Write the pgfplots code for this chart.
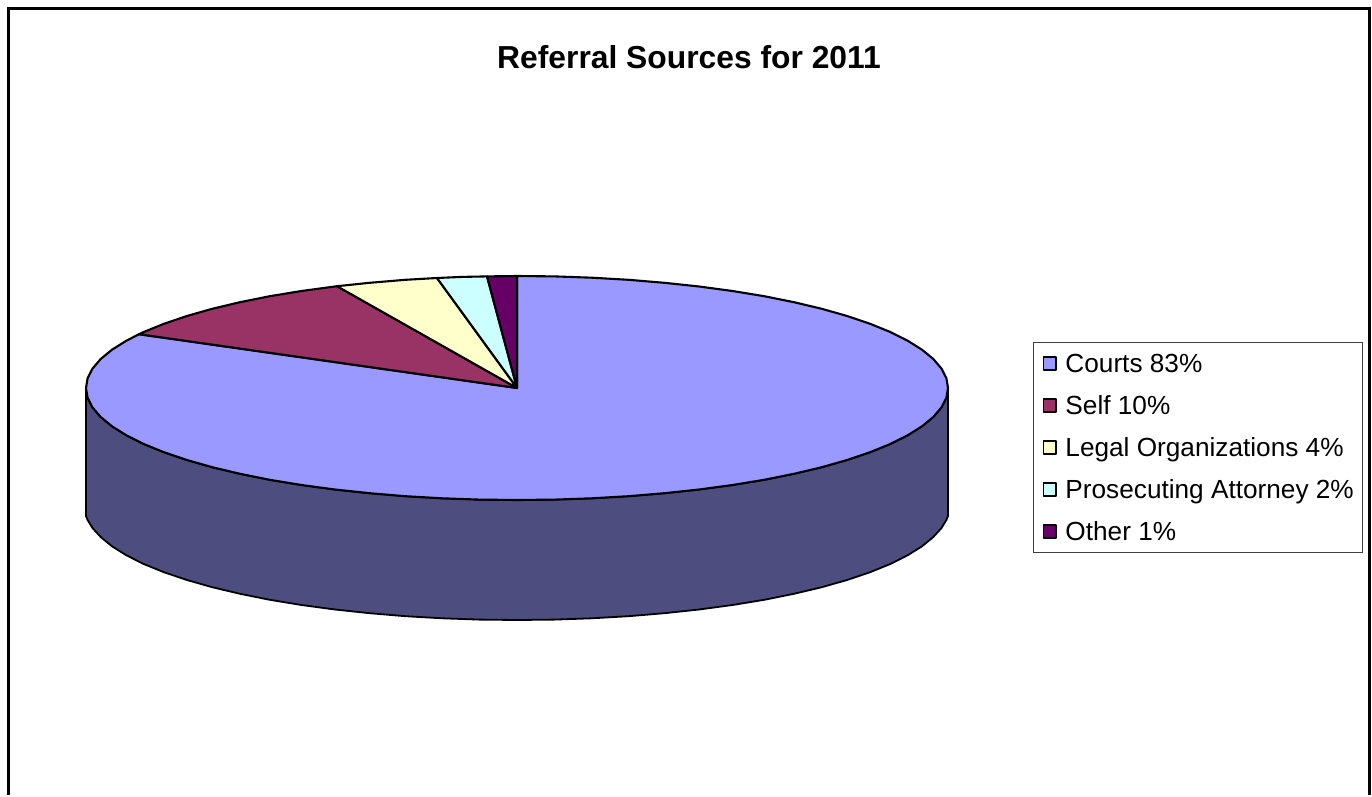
\documentclass[border=0pt]{standalone}
\usepackage{fontspec}
\setmainfont{Liberation Sans}
\usepackage{pgfplots}
\pgfplotsset{compat=1.18}
\definecolor{courts}{HTML}{9999FF}
\definecolor{wall}{HTML}{4D4D80}
\definecolor{selfc}{HTML}{993366}
\definecolor{legal}{HTML}{FFFFCC}
\definecolor{pros}{HTML}{CCFFFF}
\definecolor{other}{HTML}{660066}
\begin{document}
\begin{tikzpicture}
\begin{axis}[
  x=1pt,y=1pt,y dir=reverse,
  xmin=0,xmax=1372,ymin=0,ymax=795,
  axis lines=none,
  clip=false,
  legend cell align=left,
  legend style={
    at={(axis cs:1033,342)},anchor=north west,
    draw=black!75,line width=0.9pt,fill=white,
    font=\fontsize{26.2}{28}\selectfont,
    row sep=17pt,inner xsep=9pt,inner ysep=8.5pt,
    nodes={inner sep=0pt,text height=22pt,text depth=3pt},
  },
  legend image code/.code={
    \path[draw=none,fill=none] (0pt,0pt) -- (23pt,0pt);
    \draw[#1,line width=1.5pt] (1pt,-6.5pt) rectangle (13.5pt,6.5pt);
  },
  every axis plot/.append style={draw=black,line width=2.1pt,line join=round},
]
% side wall
\addplot[fill=wall,line width=1.8pt,forget plot] coordinates {
(86,388)(87.6,397.8)(92.5,407.4)(100.7,417)(112,426.3)(126.4,435.3)(143.7,444)(163.9,452.2)(186.9,460)(212.2,467.2)(240,473.8)(269.8,479.8)(301.5,485)(334.9,489.5)(369.6,493.2)(405.5,496.2)(442.2,498.3)(479.4,499.6)(517,500)(554.6,499.6)(591.8,498.3)(628.5,496.2)(664.4,493.2)(699.1,489.5)(732.5,485)(764.2,479.8)(794,473.8)(821.8,467.2)(847.1,460)(870.1,452.2)(890.3,444)(907.6,435.3)(922,426.3)(933.3,417)(941.5,407.4)(946.4,397.8)(948,388)
(948,516)(946.4,520)(941.5,528)(933.3,537)(922,546.3)(907.6,555.3)(890.3,564)(870.1,572.2)(847.1,580)(821.8,587.2)(794,593.8)(764.2,599.8)(732.5,605)(699.1,609.5)(664.4,613.2)(628.5,616.2)(591.8,618.3)(554.6,619.6)(517,620)(479.4,619.6)(442.2,618.3)(405.5,616.2)(369.6,613.2)(334.9,609.5)(301.5,605)(269.8,599.8)(240,593.8)(212.2,587.2)(186.9,580)(163.9,572.2)(143.7,564)(126.4,555.3)(112,546.3)(100.7,537)(92.5,528)(87.6,520)(86,516)
} -- cycle;
% Courts 83%
\addplot[fill=courts] coordinates {
(517,388)(517,276)(554.6,276.4)(591.8,277.7)(628.5,279.8)(664.4,282.8)(699.1,286.5)(732.5,291)(764.2,296.2)(794,302.2)(821.8,308.8)(847.1,316)(870.1,323.8)(890.3,332)(907.6,340.7)(922,349.7)(933.3,359)(941.5,368.6)(946.4,378.2)(948,388)
(946.4,397.8)(941.5,407.4)(933.3,417)(922,426.3)(907.6,435.3)(890.3,444)(870.1,452.2)(847.1,460)(821.8,467.2)(794,473.8)(764.2,479.8)(732.5,485)(699.1,489.5)(664.4,493.2)(628.5,496.2)(591.8,498.3)(554.6,499.6)(517,500)
(479.4,499.6)(442.2,498.3)(405.5,496.2)(369.6,493.2)(334.9,489.5)(301.5,485)(269.8,479.8)(240,473.8)(212.2,467.2)(186.9,460)(163.9,452.2)(143.7,444)(126.4,435.3)(112,426.3)(100.7,417)(92.5,407.4)(87.6,397.8)(86,388)
(87.6,378.2)(92.5,368.6)(100.7,359)(112,349.7)(126.4,340.7)(139,334.2)
} -- cycle;
\addlegendentry{Courts 83\%}
% Self 10%
\addplot[fill=selfc] coordinates {
(517,388)(139,334.2)(143.7,332)(163.9,323.8)(186.9,316)(212.2,308.8)(240,302.2)(269.8,296.2)(301.5,291)(337,286.2)
} -- cycle;
\addlegendentry{Self 10\%}
% Legal Organizations 4%
\addplot[fill=legal] coordinates {
(517,388)(337,286.2)(369.6,282.8)(405.5,279.8)(437,278)
} -- cycle;
\addlegendentry{Legal Organizations 4\%}
% Prosecuting Attorney 2%
\addplot[fill=pros] coordinates {
(517,388)(437,278)(462,276.9)(487,276.4)
} -- cycle;
\addlegendentry{Prosecuting Attorney 2\%}
% Other 1%
\addplot[fill=other] coordinates {
(517,388)(487,276.4)(517,276)
} -- cycle;
\addlegendentry{Other 1\%}
\node[font=\fontsize{31.8}{34}\selectfont\bfseries,anchor=center] at (axis cs:689,57) {Referral Sources for 2011};
\path (axis cs:0,0) rectangle (axis cs:1372,795);
\draw[black,line width=3pt] (axis cs:8,795) -- (axis cs:8,8.5) -- (axis cs:1369,8.5) -- (axis cs:1369,795);
\end{axis}
\end{tikzpicture}
\end{document}
